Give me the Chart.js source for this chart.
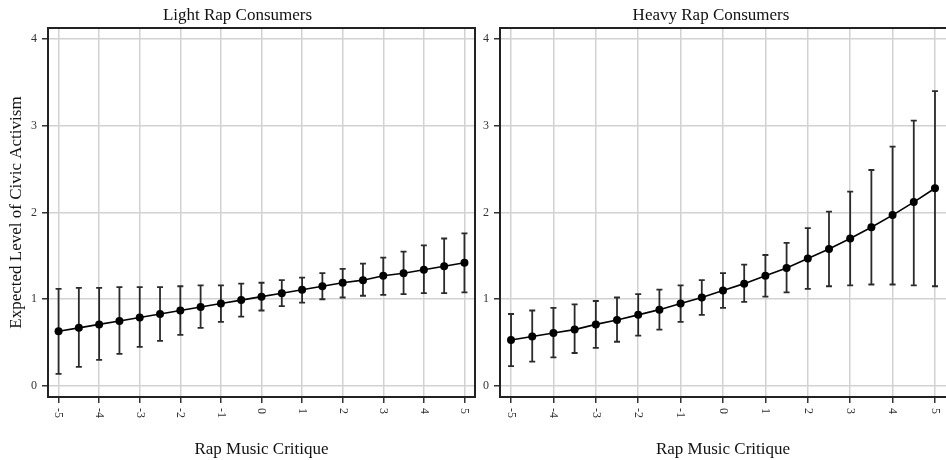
<!DOCTYPE html>
<html>
<head>
<meta charset="utf-8">
<script src="https://cdn.jsdelivr.net/npm/chart.js@4/dist/chart.umd.min.js"></script>
<style>
    html, body { margin: 0; padding: 0; background: #fff; overflow: hidden; }
    #wrap { position: relative; width: 946px; height: 460px; overflow: hidden; }
    #lightWrap { position: absolute; left: 0; top: 0; width: 476px; height: 460px; }
    #heavyWrap { position: absolute; left: 476px; top: 0; width: 470px; height: 460px; }
</style>
</head>
<body>
<div id="wrap">
    <div id="lightWrap"><canvas id="lightChart" width="476" height="460"></canvas></div>
    <div id="heavyWrap"><canvas id="heavyChart" width="470" height="460"></canvas></div>
</div>
<script>
// rap music critique values (x)
const xValues = [-5, -4.5, -4, -3.5, -3, -2.5, -2, -1.5, -1, -0.5, 0, 0.5, 1, 1.5, 2, 2.5, 3, 3.5, 4, 4.5, 5];

// light rap consumers
const lightMean  = [0.63, 0.67, 0.71, 0.75, 0.79, 0.83, 0.87, 0.91, 0.95, 0.99, 1.03, 1.07, 1.11, 1.15, 1.19, 1.22, 1.27, 1.30, 1.34, 1.38, 1.42];
const lightUpper = [1.12, 1.13, 1.13, 1.14, 1.14, 1.14, 1.15, 1.16, 1.16, 1.18, 1.19, 1.22, 1.25, 1.30, 1.35, 1.41, 1.48, 1.55, 1.62, 1.70, 1.76];
const lightLower = [0.14, 0.22, 0.30, 0.37, 0.45, 0.52, 0.59, 0.67, 0.74, 0.80, 0.87, 0.92, 0.96, 1.00, 1.02, 1.04, 1.05, 1.06, 1.07, 1.07, 1.08];

// heavy rap consumers
const heavyMean  = [0.53, 0.57, 0.61, 0.65, 0.71, 0.76, 0.82, 0.88, 0.95, 1.02, 1.10, 1.18, 1.27, 1.36, 1.47, 1.58, 1.70, 1.83, 1.97, 2.12, 2.28];
const heavyUpper = [0.83, 0.87, 0.90, 0.94, 0.98, 1.02, 1.06, 1.11, 1.16, 1.22, 1.30, 1.40, 1.51, 1.65, 1.82, 2.01, 2.24, 2.49, 2.76, 3.06, 3.40];
const heavyLower = [0.23, 0.28, 0.33, 0.38, 0.44, 0.51, 0.58, 0.65, 0.74, 0.82, 0.90, 0.97, 1.03, 1.08, 1.12, 1.15, 1.16, 1.17, 1.17, 1.16, 1.15];

// axis ticks
const xTicks = [-5, -4, -3, -2, -1, 0, 1, 2, 3, 4, 5];
const xTickLabels = ['-5', '-4', '-3', '-2', '-1', '0', '1', '2', '3', '4', '5'];
const yTicks = [0, 1, 2, 3, 4];

const SERIF = '"Liberation Serif", "Times New Roman", serif';

// error bars, drawn under the line and points
const errorBarsPlugin = {
    id: 'errorBars',
    beforeDatasetsDraw(chart, args, opts) {
        const { ctx, scales: { x, y } } = chart;
        ctx.save();
        ctx.strokeStyle = '#2b2b2b';
        ctx.lineWidth = 1.8;
        opts.lower.forEach((lo, i) => {
            const px = x.getPixelForValue(xValues[i]);
            const yLo = y.getPixelForValue(lo);
            const yHi = y.getPixelForValue(opts.upper[i]);
            ctx.beginPath();
            ctx.moveTo(px, yLo); ctx.lineTo(px, yHi);
            ctx.moveTo(px - 3, yLo); ctx.lineTo(px + 3, yLo);
            ctx.moveTo(px - 3, yHi); ctx.lineTo(px + 3, yHi);
            ctx.stroke();
        });
        ctx.restore();
    }
};

// box around the plot + rotated x tick labels
const framePlugin = {
    id: 'frame',
    afterDraw(chart, args, opts) {
        const { ctx, chartArea: a, scales: { x } } = chart;
        ctx.save();
        ctx.strokeStyle = '#222';
        ctx.lineWidth = 2;
        ctx.beginPath();
        if (opts.closed) {
            ctx.rect(a.left, a.top, a.right - a.left, a.bottom - a.top);
        } else {
            ctx.moveTo(a.right + 2, a.top);
            ctx.lineTo(a.left, a.top);
            ctx.lineTo(a.left, a.bottom);
            ctx.lineTo(a.right + 2, a.bottom);
        }
        ctx.stroke();

        ctx.fillStyle = '#333';
        ctx.font = '12px ' + SERIF;
        ctx.textAlign = 'left';
        ctx.textBaseline = 'middle';
        xTicks.forEach((v, i) => {
            ctx.save();
            ctx.translate(x.getPixelForValue(v), a.bottom + 11);
            ctx.rotate(Math.PI / 2);
            ctx.fillText(xTickLabels[i], 0, 0);
            ctx.restore();
        });
        ctx.restore();
    }
};

const RapChartPage = {
    charts: [],

    init() {
        this.charts.push(this.buildChart('lightChart', {
            title: 'Light Rap Consumers',
            mean: lightMean, lower: lightLower, upper: lightUpper,
            yAxisWidth: 48, paddingRight: 1, closed: true, showYTitle: true
        }));
        this.charts.push(this.buildChart('heavyChart', {
            title: 'Heavy Rap Consumers',
            mean: heavyMean, lower: heavyLower, upper: heavyUpper,
            yAxisWidth: 24, paddingRight: 0, closed: false, showYTitle: false
        }));
    },

    buildChart(canvasId, cfg) {
        const ctx = document.getElementById(canvasId);
        const points = xValues.map((v, i) => ({ x: v, y: cfg.mean[i] }));

        return new Chart(ctx, {
            type: 'line',
            data: {
                datasets: [{
                    data: points,
                    borderColor: '#000',
                    backgroundColor: '#000',
                    borderWidth: 1.6,
                    pointRadius: 4,
                    pointBorderWidth: 0,
                    tension: 0,
                    fill: false
                }]
            },
            options: {
                responsive: false,
                animation: false,
                devicePixelRatio: 1,
                layout: { autoPadding: false, padding: { top: 0, right: cfg.paddingRight, left: 0, bottom: 0 } },
                plugins: {
                    legend: { display: false },
                    tooltip: { enabled: false },
                    title: {
                        display: true,
                        text: cfg.title,
                        color: '#111',
                        font: { family: SERIF, size: 17, weight: 'normal', lineHeight: 1.2 },
                        padding: { top: 5, bottom: 2.6 }
                    },
                    errorBars: { lower: cfg.lower, upper: cfg.upper },
                    frame: { closed: cfg.closed }
                },
                scales: {
                    x: {
                        type: 'linear',
                        min: -5.26,
                        max: 5.26,
                        afterBuildTicks: s => { s.ticks = xTicks.map(v => ({ value: v })); },
                        afterFit: s => { s.height = 63; },
                        grid: { color: '#d2d2d2', lineWidth: 1.5, tickLength: 6, tickColor: '#333', tickWidth: 1.5 },
                        border: { display: false },
                        ticks: { display: false },
                        title: {
                            display: true,
                            text: 'Rap Music Critique',
                            color: '#111',
                            font: { family: SERIF, size: 17, lineHeight: 1.2 },
                            padding: { top: 1, bottom: 0 }
                        }
                    },
                    y: {
                        min: -0.127,
                        max: 4.127,
                        afterBuildTicks: s => { s.ticks = yTicks.map(v => ({ value: v })); },
                        afterFit: s => { s.width = cfg.yAxisWidth; },
                        grid: { color: '#d2d2d2', lineWidth: 1.5, tickLength: 6, tickColor: '#333', tickWidth: 1.5 },
                        border: { display: false },
                        ticks: { color: '#333', padding: 5, font: { family: SERIF, size: 12 } },
                        title: {
                            display: cfg.showYTitle,
                            text: 'Expected Level of Civic Activism',
                            color: '#111',
                            font: { family: SERIF, size: 17, lineHeight: 1.2 },
                            padding: { top: 6, bottom: 0 }
                        }
                    }
                }
            },
            plugins: [errorBarsPlugin, framePlugin]
        });
    }
};

RapChartPage.init();
</script>
</body>
</html>
